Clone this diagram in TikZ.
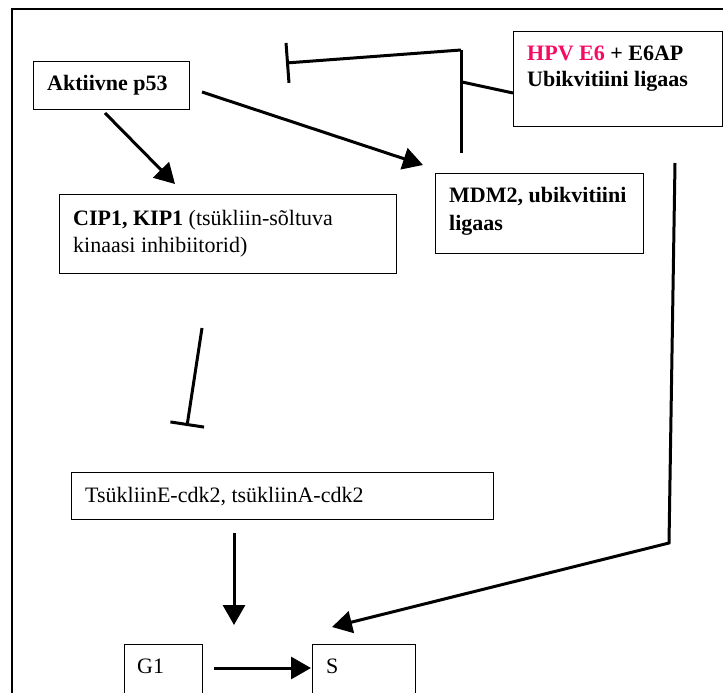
\documentclass[tikz,border=0pt]{standalone}
\usepackage{fontspec}
\setmainfont{Liberation Serif}
\usetikzlibrary{arrows.meta}
\definecolor{hpvred}{RGB}{245,10,100}
\begin{document}
\begin{tikzpicture}[x=1pt,y=-1pt,
  box/.style={draw, line width=1pt, anchor=north west, inner sep=0pt},
  lbl/.style={anchor=base west, inner sep=0pt, font=\fontsize{22}{27}\selectfont},
  conn/.style={line width=3pt},
  arr/.style={conn, -{Triangle[length=20pt,width=22pt]}},
  inh/.style={conn, -{Bar[width=40pt,line width=3pt]}},
  inhs/.style={conn, -{Bar[width=34pt,line width=3pt]}}]
\useasboundingbox (0,0) rectangle (723,693);
\clip (0,0) rectangle (723,693);
\draw[line width=2pt] (12,9) rectangle (780,780);

% boxes
\node[box, minimum width=156pt, minimum height=48pt] (p53) at (33,61) {};
\node[box, minimum width=209pt, minimum height=95pt] (hpv) at (513,31) {};
\node[box, minimum width=208pt, minimum height=80pt] (mdm) at (435,173) {};
\node[box, minimum width=337pt, minimum height=79pt] (cip) at (59,194) {};
\node[box, minimum width=422pt, minimum height=47pt] (cyc) at (71,472) {};
\node[box, minimum width=78pt, minimum height=60pt] (g1) at (124,644) {};
\node[box, minimum width=103pt, minimum height=60pt] (s) at (312,644) {};

% labels
\node[lbl] (tp53) at (47,91) {\textbf{Aktiivne p53}};
\node[lbl] (thpv1) at (527,60) {\textbf{\textcolor{hpvred}{HPV E6} + E6AP}};
\node[lbl] (thpv2) at (527,87) {\textbf{Ubikvitiini ligaas}};
\node[lbl] (tmdm1) at (449,202) {\textbf{MDM2, ubikvitiini}};
\node[lbl] (tmdm2) at (449,230) {\textbf{ligaas}};
\node[lbl] (tcip1) at (73,225) {\textbf{CIP1, KIP1} (tsükliin-sõltuva};
\node[lbl] (tcip2) at (73,252) {kinaasi inhibiitorid)};
\node[lbl] (tcyc) at (85,502) {TsükliinE-cdk2, tsükliinA-cdk2};
\node[lbl] (tg1) at (137,673) {G1};
\node[lbl] (ts) at (326,673) {S};

% connector ends
\coordinate (a1s) at (105,113);
\coordinate (a1e) at (175,184);
\coordinate (a2s) at (202,92);
\coordinate (a2e) at (423,165);
\coordinate (h0) at (513,93);
\coordinate (hj) at (462,82);
\coordinate (vt) at (461,50);
\coordinate (vb) at (461,153);
\coordinate (ib) at (286,63);
\coordinate (c1) at (202,328);
\coordinate (c2) at (187,426);
\coordinate (y1) at (234,533);
\coordinate (y2) at (234,625);
\coordinate (g1e) at (214,668);
\coordinate (s1) at (311,668);
\coordinate (r1) at (675,163);
\coordinate (r2) at (669,543);
\coordinate (r3) at (332,627);

\draw[arr] (a1s) -- (a1e);
\draw[arr] (a2s) -- (a2e);
\draw[conn] (h0) -- (hj);
\draw[conn] (vb) -- (vt);
\draw[inh] (vt) -- (ib);
\draw[inhs] (c1) -- (c2);
\draw[arr] (y1) -- (y2);
\draw[arr] (g1e) -- (s1);
\draw[arr] (r1) -- (r2) -- (r3);
\end{tikzpicture}
\end{document}
